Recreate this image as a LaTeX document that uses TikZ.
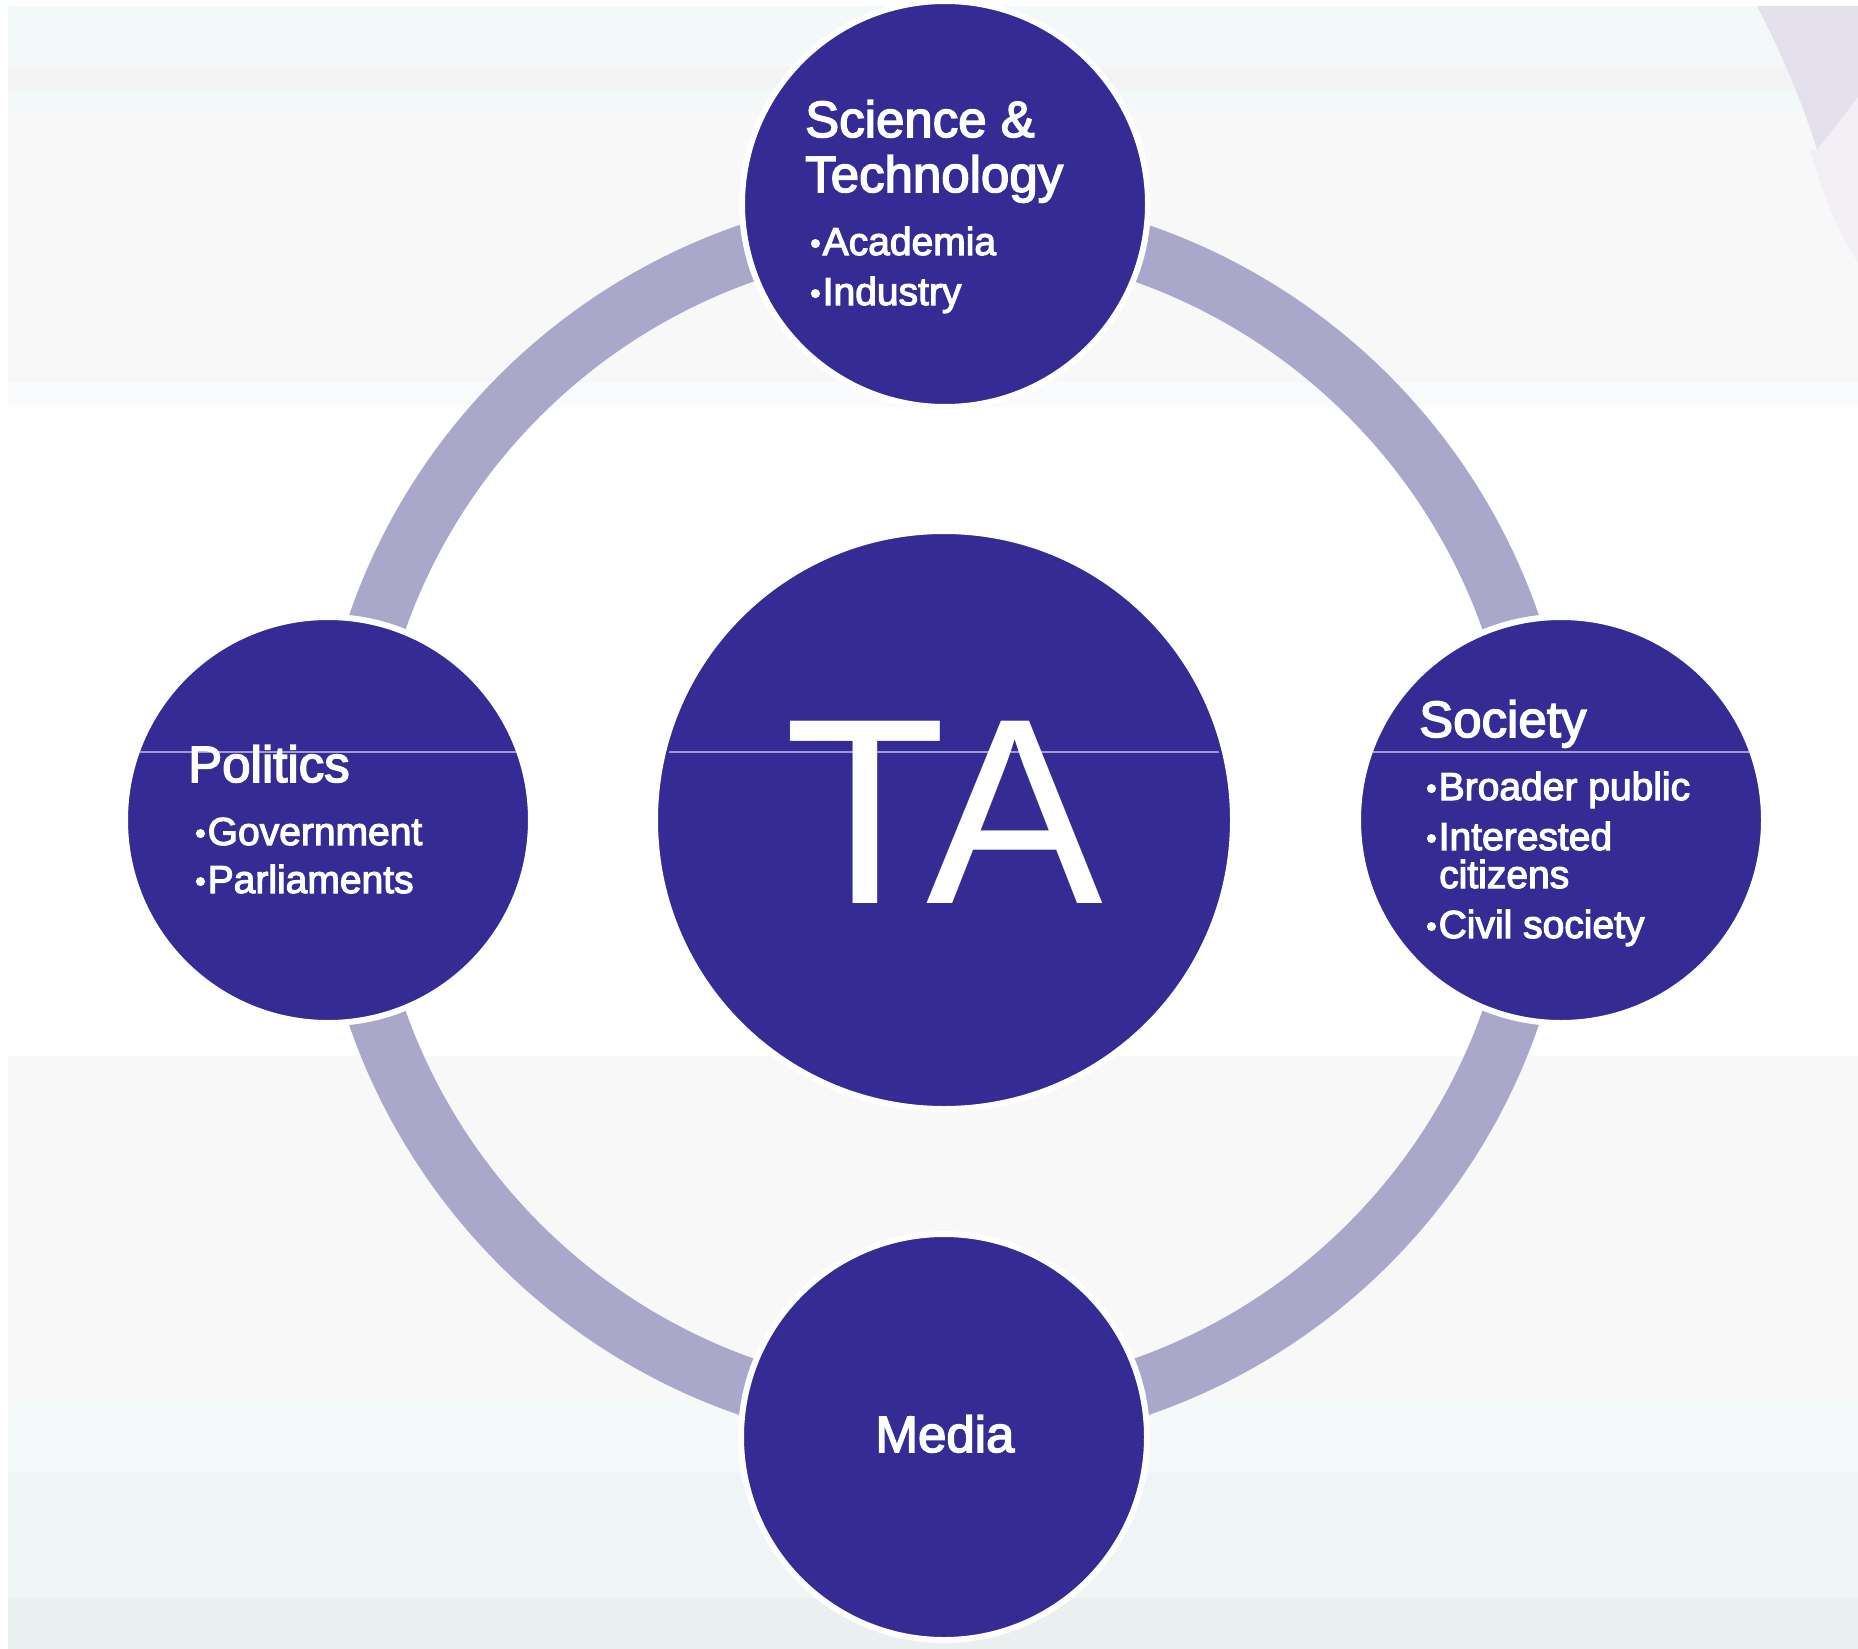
\documentclass[tikz,border=0pt]{standalone}
\usepackage{fontspec}
\setmainfont{Liberation Sans}
\newfontfamily\lblfont[FakeBold=3]{Liberation Sans}
\newcommand\tabul{\raisebox{1.5pt}{\fontsize{30}{30}\selectfont•}\hspace{2pt}}
\definecolor{taBlue}{RGB}{53,43,148}
\definecolor{ringC}{RGB}{169,168,203}
\definecolor{hlC}{RGB}{160,154,214}
\definecolor{bgCyan}{RGB}{243,248,249}
\definecolor{bgGray}{RGB}{243,243,243}
\definecolor{bgLight}{RGB}{248,248,248}
\definecolor{bgLow1}{RGB}{244,249,249}
\definecolor{bgLow2}{RGB}{239,244,244}
\definecolor{bgLow3}{RGB}{234,240,240}
\definecolor{lavA}{RGB}{228,224,236}
\definecolor{lavB}{RGB}{242,239,245}
\begin{document}
\begin{tikzpicture}[x=1pt,y=-1pt,
  hub/.style={circle, fill=taBlue, draw=white, line width=6pt, inner sep=0pt},
  headtxt/.style={anchor=base west, inner sep=0pt, text=white, font=\lblfont\fontsize{51}{51}\selectfont},
  itemtxt/.style={anchor=base west, inner sep=0pt, text=white, font=\lblfont\fontsize{39}{39}\selectfont},
  hline/.style={hlC, line width=1.5pt}
]
\useasboundingbox (0,0) rectangle (1858,1649);
% background bands
\fill[white] (0,0) rectangle (1858,1649);
\fill[bgCyan]  (8,6)    rectangle (1858,67);
\fill[bgGray]  (8,67)   rectangle (1858,89);
\fill[bgCyan]  (8,89)   rectangle (1858,110);
\fill[bgLight] (8,110)  rectangle (1858,382);
\fill[bgCyan!50]  (8,382)  rectangle (1858,407);
\fill[bgLight] (8,1056) rectangle (1858,1400);
\fill[bgLow1]  (8,1400) rectangle (1858,1472);
\fill[bgLow2]  (8,1472) rectangle (1858,1598);
\fill[bgLow3]  (8,1598) rectangle (1858,1649);
% decorative shapes top right
\fill[lavB] (1810,150) .. controls (1825,200) and (1840,235) .. (1858,262) -- (1858,97) -- (1817,150) -- cycle;
\fill[lavA] (1757,6) .. controls (1785,60) and (1805,110) .. (1817,150) -- (1858,97) -- (1858,6) -- cycle;
% ring
\draw[ringC, line width=58pt] (944,820) circle[radius=600pt];
% circles
\node[hub, minimum size=406pt] (sci) at (945,204) {};
\node[hub, minimum size=406pt] (pol) at (328,820) {};
\node[hub, minimum size=406pt] (soc) at (1561,820) {};
\node[hub, minimum size=406pt] (med) at (944,1437) {};
\node[hub, minimum size=578pt] (ta) at (944,820) {};
% thin horizontal line through circles
\begin{scope}
  \clip (pol.center) circle[radius=200pt];
  \draw[hline] (100,752) -- (560,752);
\end{scope}
\begin{scope}
  \clip (ta.center) circle[radius=283pt];
  \draw[hline] (640,752) -- (1250,752);
\end{scope}
\begin{scope}
  \clip (soc.center) circle[radius=200pt];
  \draw[hline] (1340,752) -- (1780,752);
\end{scope}
% texts
\node[headtxt] (sci1) at (805,137) {Science \&};
\node[headtxt] (sci2) at (805,192) {Technology};
\node[itemtxt] (sci3) at (810,255) {\tabul Academia};
\node[itemtxt] (sci4) at (810,305) {\tabul Industry};
\node[headtxt] (pol1) at (188,782) {Politics};
\node[itemtxt] (pol2) at (195,845) {\tabul Government};
\node[itemtxt] (pol3) at (195,893) {\tabul Parliaments};
\node[headtxt] (soc1) at (1419,737) {Society};
\node[itemtxt] (soc2) at (1426,800) {\tabul Broader public};
\node[itemtxt] (soc3) at (1426,850) {\tabul Interested};
\node[itemtxt] (soc4) at (1439,888) {citizens};
\node[itemtxt] (soc5) at (1426,938) {\tabul Civil society};
\node[anchor=base, inner sep=0pt, text=white, font=\lblfont\fontsize{51}{51}\selectfont] (med1) at (945,1452) {Media};
\node[anchor=base, inner sep=0pt, text=white, font=\fontsize{265}{265}\selectfont] (ta1) at (944,903) {TA};
\end{tikzpicture}
\end{document}
